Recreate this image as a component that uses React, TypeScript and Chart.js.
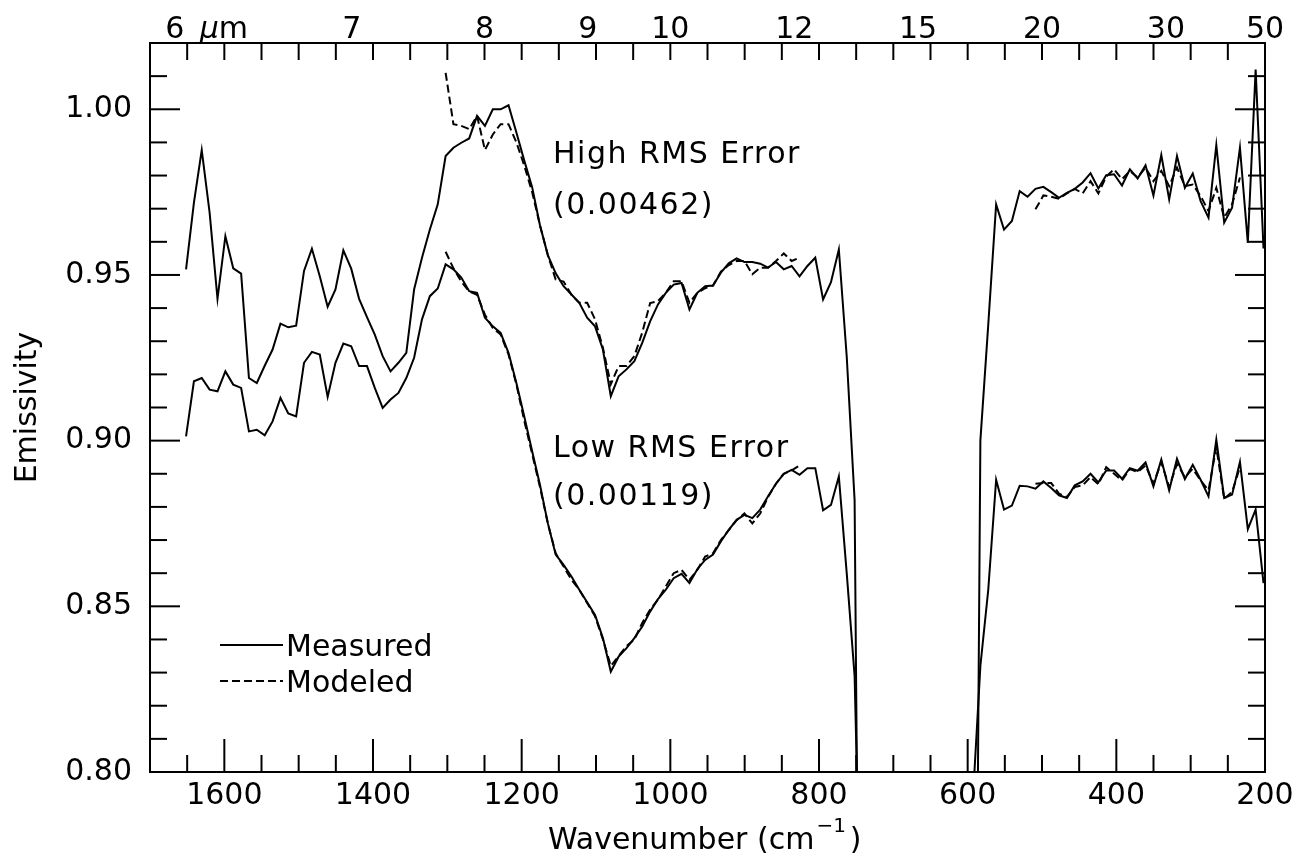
import { useEffect, useRef } from "react";
import { Chart, registerables } from "chart.js";

Chart.register(...registerables);

const FONT = '"DejaVu Sans", "Liberation Sans", sans-serif';

// TES channel wavenumbers (cm^-1), high to low
const wavenumbers = [
  1651.5, 1640.9, 1630.4, 1619.8, 1609.2, 1598.6, 1588.0, 1577.4, 1566.9, 1556.3,
  1545.7, 1535.1, 1524.5, 1514.0, 1503.4, 1492.8, 1482.2, 1471.6, 1461.0, 1450.5,
  1439.9, 1429.3, 1418.7, 1408.1, 1397.6, 1387.0, 1376.4, 1365.8, 1355.2, 1344.7,
  1334.1, 1323.5, 1312.9, 1302.3, 1291.8, 1281.2, 1270.6, 1260.0, 1249.4, 1238.8,
  1228.3, 1217.7, 1207.1, 1196.5, 1185.9, 1175.4, 1164.8, 1154.2, 1143.6, 1133.0,
  1122.5, 1111.9, 1101.3, 1090.7, 1080.1, 1069.6, 1059.0, 1048.4, 1037.8, 1027.2,
  1016.6, 1006.1, 995.5, 984.9, 974.3, 963.7, 953.2, 942.6, 932.0, 921.4,
  910.8, 900.3, 889.7, 879.1, 868.5, 857.9, 847.4, 836.8, 826.2, 815.6,
  805.0, 794.5, 783.9, 773.3, 762.7, 752.1, 741.6, 731.0, 720.4, 709.8,
  699.2, 688.7, 678.1, 667.5, 656.9, 646.3, 635.8, 625.2, 614.6, 604.0,
  593.4, 582.9, 572.3, 561.7, 551.1, 540.5, 530.0, 519.4, 508.8, 498.2,
  487.6, 477.1, 466.5, 455.9, 445.3, 434.7, 424.2, 413.6, 403.0, 392.4,
  381.8, 371.3, 360.7, 350.1, 339.5, 328.9, 318.4, 307.8, 297.2, 286.6,
  276.0, 265.5, 254.9, 244.3, 233.7, 223.1, 212.6, 202.0,
];

const highMeasured = [
  0.9517, 0.9718, 0.9877, 0.9688, 0.9428, 0.9617, 0.952, 0.9504, 0.9189, 0.9174,
  0.9226, 0.9275, 0.9353, 0.9342, 0.9347, 0.9512, 0.9579, 0.9496, 0.9404, 0.9456,
  0.9574, 0.9519, 0.9428, 0.9373, 0.932, 0.9255, 0.9209, 0.9235, 0.9265, 0.9456,
  0.9552, 0.9637, 0.9713, 0.9859, 0.9884, 0.9899, 0.9912, 0.998, 0.995, 1.0,
  1.0, 1.0012, 0.993, 0.9845, 0.9765, 0.965, 0.956, 0.9505, 0.9466, 0.9441,
  0.9416, 0.9371, 0.9345, 0.9275, 0.9134, 0.9194, 0.9215, 0.924, 0.9295, 0.936,
  0.9411, 0.9446, 0.9471, 0.9476, 0.9396, 0.9446, 0.9466, 0.9468, 0.9507, 0.9535,
  0.955, 0.9539, 0.9539, 0.9534, 0.9522, 0.9539, 0.9517, 0.9527, 0.9496, 0.9527,
  0.9552, 0.9426, 0.9478, 0.9577, 0.9254, 0.882, 0.6, null, null, null,
  null, null, null, null, null, null, null, null, null, null,
  0.58, 0.9, 0.935, 0.9713, 0.9637, 0.9663, 0.9753, 0.9736, 0.976, 0.9766,
  0.975, 0.9733, 0.9748, 0.976, 0.9779, 0.9807, 0.9761, 0.9801, 0.9804, 0.977,
  0.9819, 0.9791, 0.9831, 0.974, 0.9862, 0.9728, 0.9859, 0.9763, 0.9806, 0.9723,
  0.9673, 0.9892, 0.9658, 0.9703, 0.9884, 0.9597, 1.012, 0.958,
];

const highModeled = [
  null, null, null, null, null, null, null, null, null, null,
  null, null, null, null, null, null, null, null, null, null,
  null, null, null, null, null, null, null, null, null, null,
  null, null, null, 1.011, 0.9955, 0.995, 0.994, 0.998, 0.9877, 0.9924,
  0.9955, 0.9955, 0.99, 0.983, 0.975, 0.965, 0.956, 0.9486, 0.948, 0.944,
  0.9416, 0.9416, 0.9366, 0.928, 0.917, 0.9225, 0.9225, 0.9255, 0.9326, 0.9415,
  0.9421, 0.9446, 0.9481, 0.9481, 0.9416, 0.9446, 0.946, 0.9468, 0.951, 0.953,
  0.9542, 0.9542, 0.9502, 0.9522, 0.9522, 0.9542, 0.9565, 0.9542, 0.9552, null,
  null, null, null, null, null, null, null, null, null, null,
  null, null, null, null, null, null, null, null, null, null,
  null, null, null, null, null, null, null, null, 0.9698, 0.974,
  0.9736, 0.973, 0.9746, 0.976, 0.9746, 0.9783, 0.9746, 0.9797, 0.9819, 0.9789,
  0.9814, 0.9794, 0.9824, 0.9783, 0.9814, 0.9768, 0.9824, 0.9768, 0.9773, 0.9738,
  0.9693, 0.9763, 0.9673, 0.9713, 0.9794, null, null, null,
];

const lowMeasured = [
  0.9013, 0.9179, 0.9189, 0.9154, 0.9149, 0.9209, 0.9169, 0.9159, 0.9028, 0.9033,
  0.9016, 0.9058, 0.9129, 0.9082, 0.9073, 0.9235, 0.9268, 0.926, 0.9132, 0.9235,
  0.9293, 0.9285, 0.9225, 0.9225, 0.9159, 0.9099, 0.9124, 0.9144, 0.9189, 0.925,
  0.9366, 0.9436, 0.9459, 0.9532, 0.9517, 0.9492, 0.9451, 0.9446, 0.9371, 0.9345,
  0.9325, 0.9265, 0.9174, 0.9073, 0.8968, 0.8867, 0.8751, 0.8656, 0.8625, 0.859,
  0.855, 0.8512, 0.8474, 0.8404, 0.8303, 0.8348, 0.8374, 0.8404, 0.8439, 0.8484,
  0.8522, 0.855, 0.8585, 0.8598, 0.857, 0.8612, 0.864, 0.8656, 0.8696, 0.8731,
  0.8761, 0.8776, 0.8766, 0.8792, 0.8832, 0.887, 0.89, 0.8912, 0.8897, 0.8917,
  0.8917, 0.879, 0.8806, 0.8892, 0.86, 0.829, 0.73, null, null, null,
  null, null, null, null, null, null, null, null, null, null,
  0.79, 0.832, 0.855, 0.8882, 0.8792, 0.8804, 0.8864, 0.8862, 0.8855, 0.8877,
  0.8857, 0.8835, 0.8827, 0.8865, 0.8877, 0.89, 0.8874, 0.891, 0.891, 0.8885,
  0.8917, 0.8909, 0.8934, 0.8862, 0.8943, 0.885, 0.8945, 0.8884, 0.8927, 0.8882,
  0.8832, 0.9003, 0.8827, 0.8837, 0.8936, 0.8733, 0.8792, 0.857,
];

const lowModeled = [
  null, null, null, null, null, null, null, null, null, null,
  null, null, null, null, null, null, null, null, null, null,
  null, null, null, null, null, null, null, null, null, null,
  null, null, null, 0.957, 0.952, 0.948, 0.945, 0.944, 0.938, 0.934,
  0.932, 0.926, 0.917, 0.906, 0.896, 0.886, 0.875, 0.866, 0.862, 0.858,
  0.855, 0.851, 0.847, 0.84, 0.832, 0.835, 0.838, 0.84, 0.845, 0.849,
  0.852, 0.856, 0.86, 0.861, 0.858, 0.861, 0.865, 0.866, 0.87, 0.873,
  0.876, 0.878, 0.875, 0.878, 0.883, 0.887, 0.89, 0.891, 0.8925, null,
  null, null, null, null, null, null, null, null, null, null,
  null, null, null, null, null, null, null, null, null, null,
  null, null, null, null, null, null, null, null, 0.887, 0.8872,
  0.8872, 0.884, 0.883, 0.886, 0.8865, 0.889, 0.8868, 0.892, 0.89, 0.888,
  0.8914, 0.8905, 0.8925, 0.887, 0.8935, 0.886, 0.893, 0.889, 0.8915, 0.888,
  0.885, 0.898, 0.8825, 0.8845, 0.892, null, null, null,
];

const xMajorTicks = [1600, 1400, 1200, 1000, 800, 600, 400, 200];
const xMinorTicks = [
  1650, 1550, 1500, 1450, 1350, 1300, 1250, 1150, 1100, 1050, 950, 900, 850,
  750, 700, 650, 550, 500, 450, 350, 300, 250,
];
const yMajorTicks = [0.8, 0.85, 0.9, 0.95, 1.0];
const yMinorTicks = [
  0.81, 0.82, 0.83, 0.84, 0.86, 0.87, 0.88, 0.89, 0.91, 0.92, 0.93, 0.94,
  0.96, 0.97, 0.98, 0.99, 1.01,
];
const topMicronLabels = [6, 7, 8, 9, 10, 12, 15, 20, 30, 50];

const DASH = [8, 4];

const overlay = {
  id: "overlay",
  afterDraw(chart: any) {
    const { ctx, chartArea: a } = chart;
    const xs = chart.scales.x;
    const ys = chart.scales.y;
    ctx.save();
    ctx.strokeStyle = "#000";
    ctx.fillStyle = "#000";
    ctx.lineWidth = 2;
    ctx.lineCap = "butt";
    ctx.strokeRect(a.left, a.top, a.right - a.left, a.bottom - a.top);

    const vline = (x: number, y0: number, y1: number) => {
      ctx.beginPath();
      ctx.moveTo(x, y0);
      ctx.lineTo(x, y1);
      ctx.stroke();
    };
    const hline = (y: number, x0: number, x1: number) => {
      ctx.beginPath();
      ctx.moveTo(x0, y);
      ctx.lineTo(x1, y);
      ctx.stroke();
    };
    for (const v of xMajorTicks) {
      const px = xs.getPixelForValue(v);
      vline(px, a.bottom, a.bottom - 33);
      vline(px, a.top, a.top + 17);
    }
    for (const v of xMinorTicks) {
      const px = xs.getPixelForValue(v);
      vline(px, a.bottom, a.bottom - 17);
      vline(px, a.top, a.top + 17);
    }
    for (const v of yMajorTicks) {
      const py = ys.getPixelForValue(v);
      hline(py, a.left, a.left + 30);
      hline(py, a.right, a.right - 30);
    }
    for (const v of yMinorTicks) {
      const py = ys.getPixelForValue(v);
      hline(py, a.left, a.left + 17);
      hline(py, a.right, a.right - 17);
    }

    // top micron labels
    ctx.font = `30px ${FONT}`;
    ctx.textBaseline = "alphabetic";
    for (const m of topMicronLabels) {
      const px = xs.getPixelForValue(10000 / m);
      ctx.textAlign = "center";
      ctx.fillText(String(m), px, 38);
      if (m === 6) {
        ctx.textAlign = "left";
        ctx.font = `italic 30px ${FONT}`;
        const mu = "\u03bc";
        ctx.fillText(mu, px + 25, 38);
        const w = ctx.measureText(mu).width;
        ctx.font = `30px ${FONT}`;
        ctx.fillText("m", px + 25 + w, 38);
      }
    }

    // x axis title
    ctx.textAlign = "left";
    ctx.font = `30px ${FONT}`;
    const main = "Wavenumber (cm";
    let tx = 548;
    ctx.fillText(main, tx, 849);
    tx += ctx.measureText(main).width;
    ctx.font = `20px ${FONT}`;
    ctx.fillText("\u22121", tx + 2, 832);
    tx += ctx.measureText("\u22121").width + 6;
    ctx.font = `30px ${FONT}`;
    ctx.fillText(")", tx, 849);

    // y axis title
    ctx.save();
    ctx.translate(36, (a.top + a.bottom) / 2);
    ctx.rotate(-Math.PI / 2);
    ctx.textAlign = "center";
    ctx.fillText("Emissivity", 0, 0);
    ctx.restore();

    // annotations
    ctx.textAlign = "left";
    (ctx as any).letterSpacing = "1.5px";
    ctx.fillText("High RMS Error", 553, 163);
    ctx.fillText("(0.00462)", 553, 214);
    ctx.fillText("Low RMS Error", 553, 457);
    ctx.fillText("(0.00119)", 553, 505);
    (ctx as any).letterSpacing = "0px";

    // legend
    ctx.lineWidth = 2;
    hline(645, 220, 283);
    ctx.setLineDash(DASH);
    hline(681, 220, 283);
    ctx.setLineDash([]);
    ctx.fillText("Measured", 286, 656);
    ctx.fillText("Modeled", 286, 692);
    ctx.restore();
  },
};

export default function App() {
  const ref = useRef<HTMLCanvasElement>(null);
  useEffect(() => {
    const canvas = ref.current;
    if (!canvas) return;
    const pts = (ys: (number | null)[]) =>
      wavenumbers.map((w, i) => ({ x: w, y: ys[i] }));
    const solid = { borderColor: "#000", borderWidth: 2, pointRadius: 0, fill: false, tension: 0, spanGaps: false };
    const dashed = { ...solid, borderDash: DASH };
    const chart = new Chart(canvas, {
      type: "line",
      data: {
        datasets: [
          { label: "High RMS measured", data: pts(highMeasured), ...solid },
          { label: "High RMS modeled", data: pts(highModeled), ...dashed },
          { label: "Low RMS measured", data: pts(lowMeasured), ...solid },
          { label: "Low RMS modeled", data: pts(lowModeled), ...dashed },
        ] as any,
      },
      options: {
        responsive: false,
        animation: false,
        layout: { padding: { left: 0, right: 41, top: 43, bottom: 0 } },
        plugins: { legend: { display: false }, tooltip: { enabled: false } },
        scales: {
          x: {
            type: "linear",
            position: "bottom",
            reverse: true,
            min: 200,
            max: 1700,
            afterBuildTicks: (s: any) => {
              s.ticks = xMajorTicks.map((v) => ({ value: v }));
            },
            afterFit: (s: any) => {
              s.height = 84;
            },
            grid: { display: false, drawTicks: false },
            border: { display: false },
            ticks: {
              color: "#000",
              font: { family: FONT, size: 30 },
              padding: 6,
              autoSkip: false,
              maxRotation: 0,
              callback: (v: any) => String(v),
            },
          },
          y: {
            type: "linear",
            position: "left",
            min: 0.8,
            max: 1.02,
            afterBuildTicks: (s: any) => {
              s.ticks = yMajorTicks.map((v) => ({ value: v }));
            },
            afterFit: (s: any) => {
              s.width = 150;
            },
            grid: { display: false, drawTicks: false },
            border: { display: false },
            ticks: {
              color: "#000",
              font: { family: FONT, size: 30 },
              padding: 18,
              autoSkip: false,
              callback: (v: any) => Number(v).toFixed(2),
            },
          },
        },
      } as any,
      plugins: [overlay],
    });
    return () => chart.destroy();
  }, []);
  return (
    <div style={{ position: "absolute", left: 0, top: 0, width: 1306, height: 856, background: "#fff" }}>
      <canvas ref={ref} width={1306} height={856} style={{ display: "block" }} />
    </div>
  );
}
